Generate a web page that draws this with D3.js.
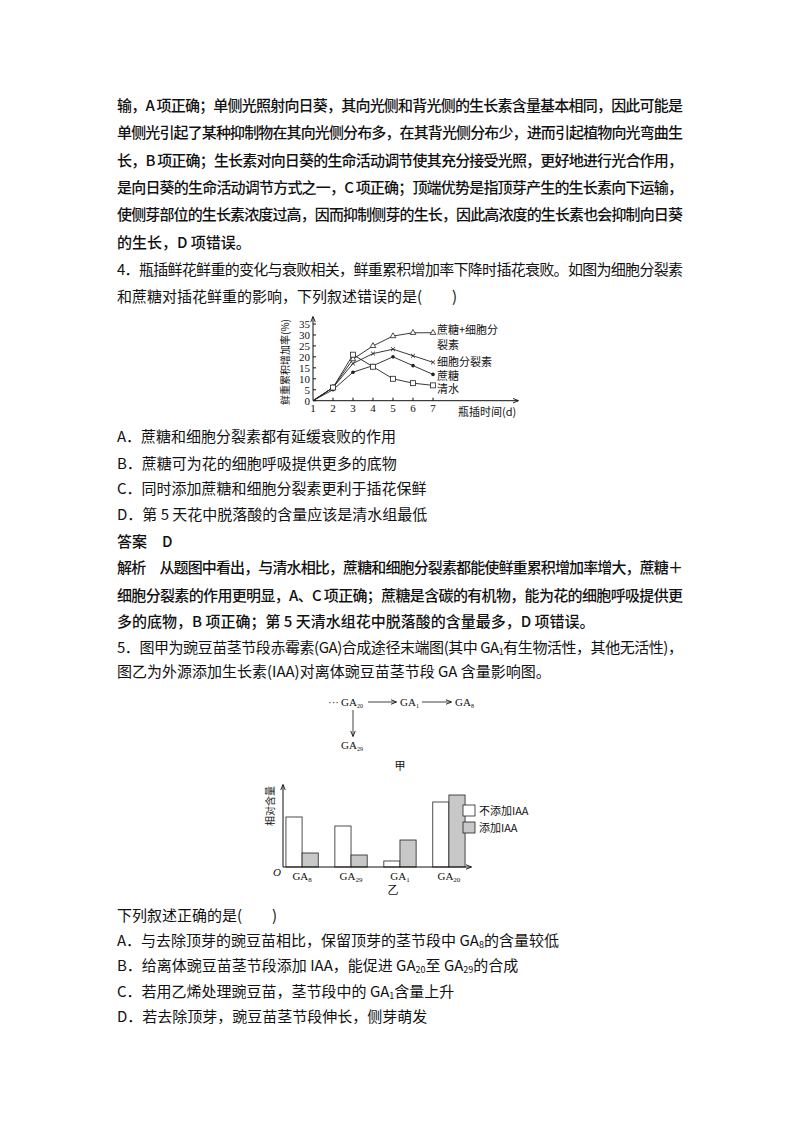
<!DOCTYPE html>
<html><head><meta charset="utf-8">
<script src="https://cdn.jsdelivr.net/npm/d3@7"></script>
<style>body{margin:0;background:#fff}svg{display:block}</style>
</head><body>
<script>
// ---- data ----
const days = [1,2,3,4,5,6,7];
const sucroseCyto = [0,6,19,25,29.5,31,31];
const cytokinin   = [0,6,17,21.5,23.5,20.5,17.5];
const sucrose     = [0,5,13,16,20,16,12];
const water       = [0,6,21,15.5,10,8,7];
const lineYTicks = [0,5,10,15,20,25,30,35];
const gaCats = ["GA8","GA29","GA1","GA20"];
const gaNoIAA = [50,41,6,65];
const gaIAA   = [14,12,27,72];

(function(){
const W=800,H=1132;
const svg=d3.select("body").append("svg").attr("width",W).attr("height",H);
const FONT='"Noto Sans CJK SC","Noto Sans",sans-serif';
const L=117, LW=566;

function line(y, parts, justify, weight){
  const t=svg.append("text").attr("x",L).attr("y",y).attr("font-family",FONT)
    .attr("font-size",15).attr("fill","#111").attr("dominant-baseline","middle")
    .attr("font-weight",weight||400);
  let inSub=false;
  parts.forEach(p=>{
    if(typeof p==="string"){ const s=t.append("tspan").text(p); if(inSub) s.attr("dy",-4); inSub=false; }
    else { t.append("tspan").attr("font-size",9).attr("dy",4).text(p.sub); inSub=true; }
  });
  if(justify) t.attr("textLength",LW).attr("lengthAdjust","spacing");
}
const para=[
 ["输，A 项正确；单侧光照射向日葵，其向光侧和背光侧的生长素含量基本相同，因此可能是",1],
 ["单侧光引起了某种抑制物在其向光侧分布多，在其背光侧分布少，进而引起植物向光弯曲生",1],
 ["长，B 项正确；生长素对向日葵的生命活动调节使其充分接受光照，更好地进行光合作用，",1],
 ["是向日葵的生命活动调节方式之一，C 项正确；顶端优势是指顶芽产生的生长素向下运输，",1],
 ["使侧芽部位的生长素浓度过高，因而抑制侧芽的生长，因此高浓度的生长素也会抑制向日葵",1],
 ["的生长，D 项错误。",0]];
para.forEach((r,i)=>line(107+i*27.3,[r[0]],r[1],500));
line(271,["4．瓶插鲜花鲜重的变化与衰败相关，鲜重累积增加率下降时插花衰败。如图为细胞分裂素"],1);
line(298,["和蔗糖对插花鲜重的影响，下列叙述错误的是(　　)"],0);
line(438,["A．蔗糖和细胞分裂素都有延缓衰败的作用"]);
line(465,["B．蔗糖可为花的细胞呼吸提供更多的底物"]);
line(490,["C．同时添加蔗糖和细胞分裂素更利于插花保鲜"]);
line(516,["D．第 5 天花中脱落酸的含量应该是清水组最低"]);
line(543,["答案　D"],0,500);
line(569,["解析　从题图中看出，与清水相比，蔗糖和细胞分裂素都能使鲜重累积增加率增大，蔗糖＋"],1,500);
line(597,["细胞分裂素的作用更明显，A、C 项正确；蔗糖是含碳的有机物，能为花的细胞呼吸提供更"],1,500);
line(623,["多的底物，B 项正确；第 5 天清水组花中脱落酸的含量最多，D 项错误。"],0,500);
line(649,["5．图甲为豌豆苗茎节段赤霉素(GA)合成途径末端图(其中 GA",{sub:"1"},"有生物活性，其他无活性)，"],1);
line(673,["图乙为外源添加生长素(IAA)对离体豌豆苗茎节段 GA 含量影响图。"]);
line(917,["下列叙述正确的是(　　)"]);
line(942,["A．与去除顶芽的豌豆苗相比，保留顶芽的茎节段中 GA",{sub:"8"},"的含量较低"]);
line(967,["B．给离体豌豆苗茎节段添加 IAA，能促进 GA",{sub:"20"},"至 GA",{sub:"29"},"的合成"]);
line(993,["C．若用乙烯处理豌豆苗，茎节段中的 GA",{sub:"1"},"含量上升"]);
line(1018,["D．若去除顶芽，豌豆苗茎节段伸长，侧芽萌发"]);

// ---- line chart ----
svg.append("defs").append("marker").attr("id","ar").attr("viewBox","0 0 10 10").attr("refX",9).attr("refY",5)
  .attr("markerWidth",6).attr("markerHeight",6).attr("orient","auto").attr("markerUnits","userSpaceOnUse")
  .append("path").attr("d","M0,1L10,5L0,9").attr("fill","none").attr("stroke","#111").attr("stroke-width",1.5);
const x1=d3.scaleLinear().domain([1,7]).range([313,433]);
const y1=d3.scaleLinear().domain([0,35]).range([400.7,324]);
const g1=svg.append("g").attr("font-family","Liberation Serif,serif").attr("font-size",11).attr("fill","#111");
g1.append("line").attr("x1",313).attr("x2",518).attr("y1",400.7).attr("y2",400.7).attr("stroke","#111").attr("marker-end","url(#ar)");
g1.append("line").attr("x1",313).attr("x2",313).attr("y1",400.7).attr("y2",317).attr("stroke","#111").attr("marker-end","url(#ar)");
lineYTicks.forEach(v=>{
  g1.append("line").attr("x1",313).attr("x2",316).attr("y1",y1(v)).attr("y2",y1(v)).attr("stroke","#111");
  g1.append("text").attr("x",310).attr("y",y1(v)+4).attr("text-anchor","end").text(v);
});
days.forEach(d=>{
  if(d>1) g1.append("line").attr("x1",x1(d)).attr("x2",x1(d)).attr("y1",400.7).attr("y2",397.7).attr("stroke","#111");
  g1.append("text").attr("x",x1(d)).attr("y",412).attr("text-anchor","middle").text(d);
});
g1.append("text").attr("transform","translate(289,362) rotate(-90)").attr("text-anchor","middle")
  .attr("font-family",FONT).attr("font-size",10).text("鲜重累积增加率(%)");
g1.append("text").attr("x",458).attr("y",416).attr("font-family",FONT).attr("font-size",11).text("瓶插时间(d)");
const lg=d3.line().x((d,i)=>x1(days[i])).y(d=>y1(d));
const series=[[sucroseCyto,"tri"],[cytokinin,"x"],[sucrose,"dot"],[water,"sq"]];
series.forEach(([s,m])=>{
  g1.append("path").attr("d",lg(s)).attr("fill","none").attr("stroke","#222").attr("stroke-width",0.9);
  s.forEach((v,i)=>{
    const cx=x1(days[i]),cy=y1(v);
    if(i===0) return;
    if(m==="tri") g1.append("path").attr("d",d3.symbol(d3.symbolTriangle,14)()).attr("transform",`translate(${cx},${cy})`).attr("fill","#fff").attr("stroke","#222").attr("stroke-width",0.8);
    if(m==="x") g1.append("path").attr("d",d3.symbol(d3.symbolTimes,12)()).attr("transform",`translate(${cx},${cy})`).attr("fill","none").attr("stroke","#222").attr("stroke-width",0.9);
    if(m==="dot") g1.append("circle").attr("cx",cx).attr("cy",cy).attr("r",1.8).attr("fill","#222");
    if(m==="sq") g1.append("rect").attr("x",cx-2.5).attr("y",cy-2.5).attr("width",5).attr("height",5).attr("fill","#fff").attr("stroke","#222").attr("stroke-width",0.8);
  });
});
[["蔗糖+细胞分",330],["裂素",345],["细胞分裂素",362],["蔗糖",376],["清水",389]].forEach(([t,y])=>
  g1.append("text").attr("x",437).attr("y",y+4).attr("font-family",FONT).attr("font-size",11).text(t));

// ---- pathway diagram ----
const g2=svg.append("g").attr("font-family","Liberation Serif,serif").attr("font-size",11).attr("fill","#111");
function ga(x,y,sub){const t=g2.append("text").attr("x",x).attr("y",y);t.append("tspan").text("GA");t.append("tspan").attr("font-size",6).attr("dy",2).text(sub);}
g2.append("text").attr("x",328).attr("y",706).text("···");
ga(341,706,"20"); ga(400,706,"1"); ga(455,706,"8"); ga(341,749,"29");
[[368,702,396,702],[422,702,451,702],[353,710,353,736]].forEach(a=>
  g2.append("line").attr("x1",a[0]).attr("y1",a[1]).attr("x2",a[2]).attr("y2",a[3]).attr("stroke","#111").attr("stroke-width",0.8).attr("marker-end","url(#ar)"));
g2.append("text").attr("x",400).attr("y",770).attr("text-anchor","middle").attr("font-family",FONT).attr("font-size",11).text("甲");

// ---- bar chart ----
const x0=d3.scaleBand().domain(gaCats).range([283,468]).paddingInner(0.34).paddingOuter(0.06);
const xb=d3.scaleBand().domain(["no","yes"]).range([0,x0.bandwidth()]);
const yb=d3.scaleLinear().domain([0,100]).range([867,767]);
const g3=svg.append("g").attr("font-family","Liberation Serif,serif").attr("font-size",11).attr("fill","#111");
gaCats.forEach((c,i)=>{
  [["no",gaNoIAA[i],"#fff"],["yes",gaIAA[i],"#c8c8c8"]].forEach(([k,v,f])=>
    g3.append("rect").attr("x",x0(c)+xb(k)).attr("y",yb(v)).attr("width",xb.bandwidth()).attr("height",yb(0)-yb(v))
      .attr("fill",f).attr("stroke","#222").attr("stroke-width",0.8));
  const t=g3.append("text").attr("x",x0(c)+x0.bandwidth()/2).attr("y",880).attr("text-anchor","middle");
  t.append("tspan").text("GA");t.append("tspan").attr("font-size",7).attr("dy",2).text(c.slice(2));
});
g3.append("line").attr("x1",283).attr("x2",471).attr("y1",867).attr("y2",867).attr("stroke","#111").attr("marker-end","url(#ar)");
g3.append("line").attr("x1",283).attr("x2",283).attr("y1",867).attr("y2",785).attr("stroke","#111").attr("marker-end","url(#ar)");
g3.append("text").attr("x",277).attr("y",876).attr("text-anchor","middle").attr("font-style","italic").text("O");
g3.append("text").attr("transform","translate(274,806) rotate(-90)").attr("text-anchor","middle").attr("font-family",FONT).attr("font-size",10).text("相对含量");
g3.append("text").attr("x",393).attr("y",894).attr("text-anchor","middle").attr("font-family",FONT).attr("font-size",11).text("乙");
[["不添加IAA","#fff",805],["添加IAA","#c8c8c8",822]].forEach(([t,f,y])=>{
  g3.append("rect").attr("x",463).attr("y",y).attr("width",12).attr("height",11).attr("fill",f).attr("stroke","#222").attr("stroke-width",0.8);
  g3.append("text").attr("x",479).attr("y",y+10).attr("font-family",FONT).attr("font-size",11).text(t);
});
})();
</script>
</body></html>
